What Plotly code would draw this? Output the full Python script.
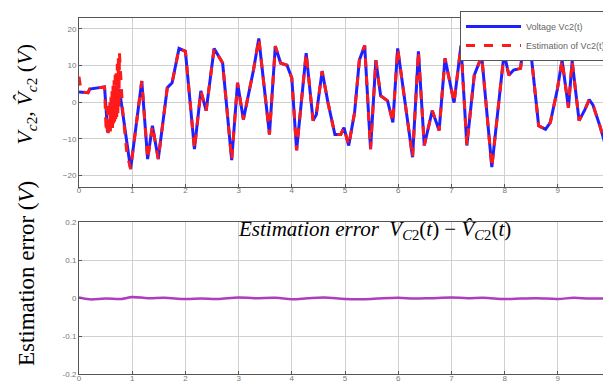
import plotly.graph_objects as go
from plotly.subplots import make_subplots

# ---- data ----
t_voltage = [0.0, 0.17, 0.2, 0.48, 0.54, 0.6, 0.68, 0.76, 0.97, 1.18, 1.29, 1.38, 1.49, 1.66, 1.75,
             1.88, 2.0, 2.17, 2.29, 2.39, 2.54, 2.70, 2.87, 2.98, 3.09, 3.28, 3.38, 3.58, 3.69,
             3.79, 3.91, 4.0, 4.09, 4.27, 4.40, 4.46, 4.57, 4.68, 4.81, 4.92, 4.98, 5.07, 5.18,
             5.27, 5.37, 5.48, 5.58, 5.67, 5.80, 5.90, 5.99, 6.27, 6.38, 6.49, 6.64, 6.77, 6.88,
             7.05, 7.18, 7.29, 7.43, 7.57, 7.76, 7.99, 8.08, 8.17, 8.30, 8.34, 8.42, 8.49, 8.64,
             8.77, 8.86, 8.99, 9.08, 9.20, 9.27, 9.40, 9.51, 9.59, 9.66, 9.79, 9.89, 10.0]
v_voltage = [2.8, 2.6, 3.6, 4.2, -8.2, -6.5, -2.0, 3.5, -18.2, 5.8, -15.5, -6.4, -15.5, 4.0, 5.3,
             14.7, 13.9, -12.8, 3.1, -2.3, 14.7, 10.7, -15.8, 5.3, -4.7, 8.8, 17.4, -8.8, 15.3,
             10.7, 10.1, 6.6, -13.1, 13.4, -5.0, -3.4, 8.5, -0.1, -8.8, -8.8, -6.9, -11.8, -2.8,
             11.5, 15.5, -12.8, 11.5, 1.8, 0.4, -5.5, 14.7, -15.0, 13.9, -11.8, -2.3, -7.7, 12.0,
             -0.1, 15.5, -11.8, 7.4, 12.6, -17.7, 13.4, 7.4, 8.8, 9.3, 14.2, 21.0, 14.2, -6.4,
             -7.4, -5.5, 3.4, 11.5, -1.5, 11.2, -5.0, -2.0, 0.7, -0.7, -6.4, -11.5, -13.6]

# estimation: start-up spike and chattering between t=0.5 and 0.78, then tracks the voltage
t_est_start = [0.0, 0.04, 0.17, 0.2, 0.48, 0.51, 0.52, 0.53, 0.54, 0.55, 0.56, 0.57, 0.58, 0.59,
               0.60, 0.61, 0.62, 0.63, 0.64, 0.65, 0.66, 0.67, 0.68, 0.69, 0.70, 0.71, 0.72,
               0.73, 0.74, 0.75, 0.76, 0.78, 0.82, 0.90]
v_est_start = [7.0, 2.8, 2.6, 3.6, 4.2, -8.0, -1.0, -8.8, -2.0, -9.0, -1.0, -8.5, 0.0, -8.0,
               1.5, -7.5, 3.0, -7.0, 4.5, -6.5, 6.0, -6.0, 7.5, -5.0, 9.0, -4.0, 10.5,
               -3.0, 12.0, -1.5, 13.5, 8.0, -2.0, -14.0]
t_error = [0.0, 0.2, 0.5, 0.8, 1.0, 1.3, 1.6, 2.0, 2.3, 2.6, 3.0, 3.3, 3.7, 4.0, 4.3, 4.6,
           5.0, 5.3, 5.6, 6.0, 6.3, 6.6, 7.0, 7.3, 7.6, 8.0, 8.3, 8.6, 9.0, 9.3, 9.6, 10.0]
v_error = [0.002, -0.003, -0.001, -0.002, 0.003, 0.0, 0.001, -0.002, -0.001, -0.002, 0.002, 0.0,
           0.001, -0.003, 0.0, 0.002, -0.002, -0.003, -0.001, 0.001, -0.001, 0.0, 0.002, 0.0,
           0.001, -0.002, -0.001, 0.0, -0.002, 0.001, -0.001, 0.0]

x_ticks = [0, 1, 2, 3, 4, 5, 6, 7, 8, 9, 10]
y_ticks_top = [-20, -10, 0, 10, 20]
y_ticks_bottom = [-0.2, -0.1, 0, 0.1, 0.2]
y_ticktext_bottom = ["-0.2", "-0.1", "0", "0.1", "0.2"]

t_est = t_est_start + [t for t in t_voltage if t >= 0.97]
v_est = v_est_start + [v for t, v in zip(t_voltage, v_voltage) if t >= 0.97]

fig = make_subplots(rows=2, cols=1, vertical_spacing=0.1)
fig.update_layout(yaxis=dict(domain=[0.5266, 1.0]), yaxis2=dict(domain=[0.0, 0.4258]))

fig.add_trace(go.Scatter(x=t_voltage, y=v_voltage, mode="lines", name="Voltage Vc2(t)",
                         line=dict(color="#1f1fff", width=3)), row=1, col=1)
fig.add_trace(go.Scatter(x=t_est, y=v_est, mode="lines", name="Estimation of Vc2(t)",
                         line=dict(color="#ff1a1a", width=3, dash="dash")), row=1, col=1)
fig.add_trace(go.Scatter(x=t_error, y=v_error, mode="lines", showlegend=False,
                         line=dict(color="#b03cc0", width=2.5, shape="spline")), row=2, col=1)

axis_common = dict(showline=True, linecolor="#555", linewidth=1, mirror=True,
                   showgrid=True, gridcolor="#d0d0d0", gridwidth=1, zeroline=False,
                   ticks="inside", ticklen=3, tickcolor="#555", ticklabeloverflow="allow",
                   tickfont=dict(family="Liberation Sans", size=8, color="#777"))
for r in (1, 2):
    fig.update_xaxes(range=[0, 10], tickvals=x_ticks, row=r, col=1, ticklabelstandoff=-4,
                     **axis_common)
fig.update_yaxes(range=[-23, 23], tickvals=y_ticks_top, row=1, col=1, **axis_common)
fig.update_yaxes(range=[-0.2, 0.2], tickvals=y_ticks_bottom, ticktext=y_ticktext_bottom,
                 row=2, col=1, **axis_common)

fig.add_annotation(xref="x2", yref="y2", x=5.55, y=0.18,
                   text="<i>Estimation error</i>  <i>V</i><sub><i>C</i>2</sub>(<i>t</i>) − <i>V̂</i><sub><i>C</i>2</sub>(<i>t</i>)",
                   showarrow=False, xanchor="center", yanchor="middle",
                   font=dict(family="Liberation Serif", size=21, color="black"))

# left rotated labels
fig.add_annotation(xref="paper", yref="paper", x=-0.1, y=0.283, xanchor="center", yanchor="middle",
                   text="Estimation error (<i>V</i>)", textangle=-90, showarrow=False,
                   font=dict(family="Liberation Serif", size=23, color="black"))
fig.add_annotation(xref="paper", yref="paper", x=-0.1, y=0.787, xanchor="center", yanchor="middle",
                   text="<i>V</i><sub><i>c</i>2</sub>, <i>V̂</i><sub><i>c</i>2</sub> (<i>V</i>)",
                   textangle=-90, showarrow=False,
                   font=dict(family="Liberation Serif", size=22, color="black"))

fig.update_layout(
    width=611, height=385,
    margin=dict(l=71, r=3, t=9, b=19),
    paper_bgcolor="white", plot_bgcolor="white",
    showlegend=True,
    legend=dict(x=1.0, y=1.02, xanchor="right", yanchor="top", bgcolor="white",
                bordercolor="#555", borderwidth=1, tracegroupgap=0,
                font=dict(family="Liberation Sans", size=9, color="#666"),
                itemwidth=55),
)

fig.write_html("out.html")
